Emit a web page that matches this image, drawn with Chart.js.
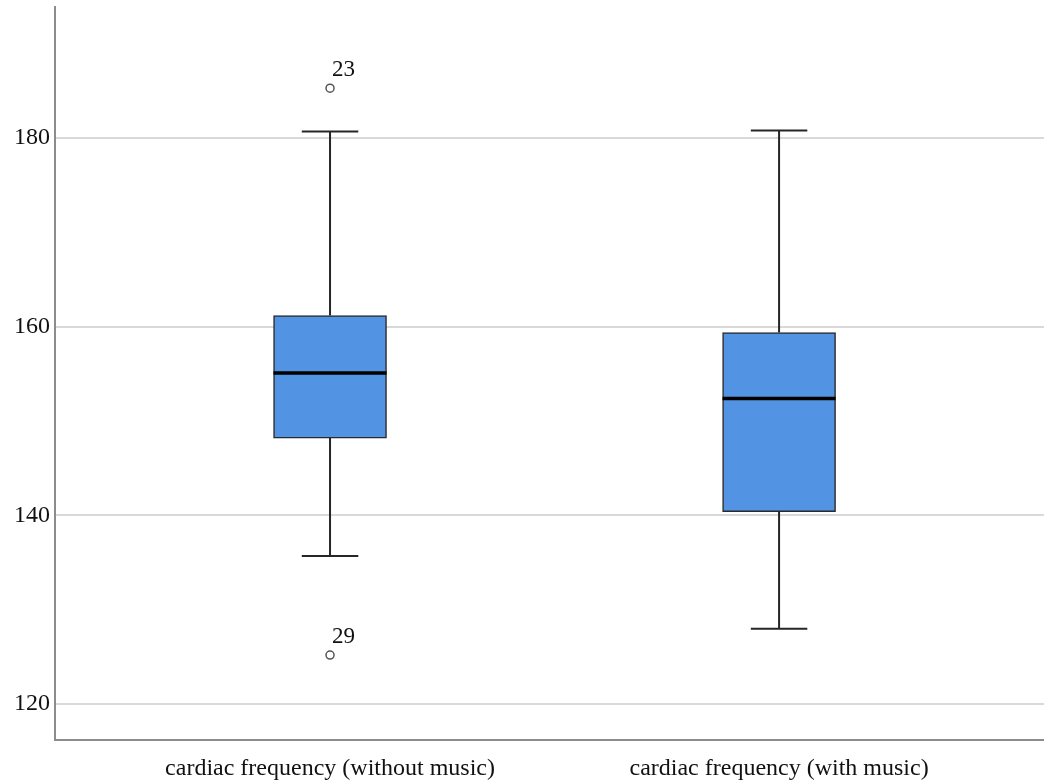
<!DOCTYPE html>
<html>
<head>
<meta charset="utf-8">
<script src="https://cdn.jsdelivr.net/npm/chart.js@4"></script>
<style>
  body { margin: 0; background: #fff; }
  #wrap { width: 1044px; height: 784px; }
</style>
</head>
<body>
<div id="wrap"><canvas id="boxChart" width="1044" height="784"></canvas></div>
<script>
'use strict';

// box summaries
const categories  = ['cardiac frequency (without music)', 'cardiac frequency (with music)'];
const whiskerLow  = [135.7, 128.0];
const q1          = [148.2, 140.4];
const median      = [155.1, 152.4];
const q3          = [161.2, 159.4];
const whiskerHigh = [180.7, 180.8];

// outliers (group index, value, case id)
const outlierGroup  = [0, 0];
const outlierValues = [185.3, 125.2];
const outlierIds    = ['23', '29'];

const yTicks = [120, 140, 160, 180];

const serif = 'Liberation Serif';

const boxExtras = {
	id: 'boxExtras',
	afterDatasetsDraw(chart) {
		const ctx = chart.ctx;
		const y = chart.scales.y;
		const meta = chart.getDatasetMeta(0);

		ctx.save();
		meta.data.forEach(function (bar, i) {
			let cx = bar.x;
			let half = bar.width / 2;
			let cap = half / 2;
			let yLo = y.getPixelForValue(whiskerLow[i]);
			let yHi = y.getPixelForValue(whiskerHigh[i]);
			let yQ1 = y.getPixelForValue(q1[i]);
			let yQ3 = y.getPixelForValue(q3[i]);
			let yMed = y.getPixelForValue(median[i]);

			ctx.strokeStyle = '#262626';
			ctx.lineWidth = 2;
			ctx.beginPath();
			ctx.moveTo(cx, yHi); ctx.lineTo(cx, yQ3);
			ctx.moveTo(cx, yQ1); ctx.lineTo(cx, yLo);
			ctx.moveTo(cx - cap, yHi); ctx.lineTo(cx + cap, yHi);
			ctx.moveTo(cx - cap, yLo); ctx.lineTo(cx + cap, yLo);
			ctx.stroke();

			ctx.strokeStyle = '#000';
			ctx.lineWidth = 3.5;
			ctx.beginPath();
			ctx.moveTo(cx - half, yMed); ctx.lineTo(cx + half, yMed);
			ctx.stroke();
		});

		// case labels next to the outliers
		const om = chart.getDatasetMeta(1);
		ctx.fillStyle = '#111';
		ctx.font = '23px "' + serif + '"';
		ctx.textAlign = 'left';
		ctx.textBaseline = 'alphabetic';
		om.data.forEach(function (pt, j) {
			ctx.fillText(outlierIds[j], pt.x + 2, pt.y - 12);
		});
		ctx.restore();
	}
};

const ctx = document.getElementById('boxChart').getContext('2d');

new Chart(ctx, {
	type: 'bar',
	data: {
		datasets: [{
			label: 'box',
			data: categories.map((c, i) => ({ x: i + 1, y: [q1[i], q3[i]] })),
			backgroundColor: '#5393e3',
			borderColor: '#2a2a2a',
			borderWidth: 1.5,
			borderSkipped: false,
			barThickness: 113
		}, {
			type: 'scatter',
			label: 'outliers',
			data: outlierValues.map((v, j) => ({ x: outlierGroup[j] + 1, y: v })),
			pointRadius: 4,
			pointBackgroundColor: '#fff',
			pointBorderColor: '#555',
			pointBorderWidth: 1.5
		}]
	},
	options: {
		responsive: false,
		animation: false,
		layout: { autoPadding: false, padding: { top: 7, right: 0, left: 0, bottom: 0 } },
		plugins: {
			legend: { display: false },
			tooltip: { enabled: false }
		},
		scales: {
			x: {
				type: 'linear',
				offset: false,
				min: 0.3875,
				max: 2.59,
				afterBuildTicks: s => { s.ticks = categories.map((c, i) => ({ value: i + 1 })); },
				afterFit: s => {
					s.height = 44;
					s.paddingLeft = 0;
					s.paddingRight = 0;
				},
				grid: { display: false, offset: false, drawTicks: false },
				border: { display: true, color: '#8c8c8c', width: 2 },
				ticks: {
					autoSkip: false,
					maxRotation: 0,
					padding: 14,
					color: '#111',
					font: { family: serif, size: 24 },
					callback: v => categories[v - 1] || ''
				}
			},
			y: {
				min: 116.2,
				max: 193.9,
				afterBuildTicks: s => { s.ticks = yTicks.map(v => ({ value: v })); },
				afterFit: s => {
					s.width = 55;
					s.paddingTop = 0;
					s.paddingBottom = 0;
				},
				grid: { color: '#d9d9d9', lineWidth: 2, drawTicks: false },
				border: { color: '#8c8c8c', width: 2 },
				ticks: {
					padding: 5,
					color: '#111',
					font: { family: serif, size: 24 }
				}
			}
		}
	},
	plugins: [boxExtras]
});
</script>
</body>
</html>
